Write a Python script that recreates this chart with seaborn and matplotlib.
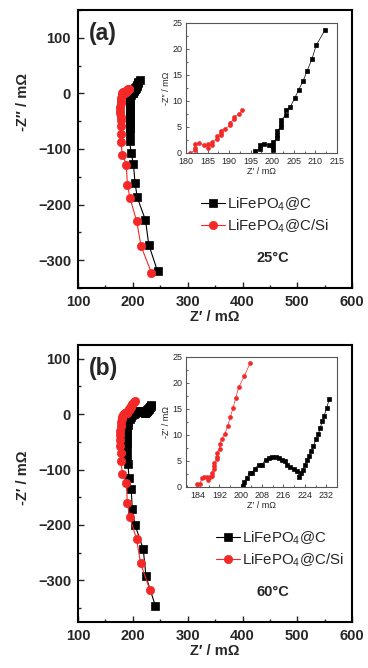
import matplotlib
matplotlib.use("Agg")
import matplotlib.pyplot as plt
from matplotlib.ticker import MultipleLocator
import seaborn as sns

# ---- (a) 25 C : LiFePO4@C (black) ----
a_c_x = [245, 229, 223, 208, 204, 201, 197, 194, 194, 194, 194, 194, 194, 194, 194, 194, 195, 195, 195, 196,
         196.1, 197.2, 197.2, 198.1, 199.2, 200.2, 200.2, 200.2, 201.1, 201.1, 201.1, 202.1, 202.1, 202.1,
         203.1, 203.1, 204.2, 205.2, 206.1, 207.2, 208.1, 209.2, 210.2, 212.2]
a_c_y = [-320, -272, -228, -187, -161, -127, -108, -85, -72, -62, -55, -48, -42, -36, -30, -24, -18, -13, -8, -3,
         0.3, 0.8, 1.5, 1.7, 1.6, 0.5, 1.3, 2.1, 2.8, 3.4, 4.3, 5.0, 5.6, 6.3,
         7.3, 8.2, 8.9, 10.5, 12.1, 13.9, 15.8, 18.0, 20.7, 23.6]
# ---- (a) 25 C : LiFePO4@C/Si (red) ----
a_si_x = [234, 215, 207, 195, 190, 188, 181, 178, 178, 178, 178, 178, 177, 177, 177, 178, 178, 179, 180,
          181.0, 182.0, 182.0, 182.0, 183.0, 184.1, 185.1, 185.1, 186.1, 186.1, 187.1, 187.1, 188.1, 188.1,
          188.1, 189.1, 190.2, 190.2, 191.2, 191.2, 192.2, 193.1]
a_si_y = [-323, -275, -230, -189, -164, -128, -110, -87, -73, -58, -48, -42, -36, -30, -24, -18, -13, -8, -3,
          0.0, 0.5, 1.0, 1.7, 1.9, 1.6, 1.0, 1.7, 1.6, 2.1, 2.6, 3.2, 3.4, 3.9,
          4.3, 4.7, 5.3, 5.8, 6.5, 7.0, 7.4, 8.2]

# ---- (b) 60 C : LiFePO4@C (black) ----
b_c_x = [241, 224, 219, 204, 199, 197, 193, 191, 190, 189, 189, 189, 189, 190, 191, 192, 194, 196, 198,
         200.8, 201.4, 202.3, 203.3, 204.2, 205.3, 206.7, 207.9, 209.3, 210.6, 211.8, 213.1, 214.4, 215.5,
         216.4, 217.4, 218.6, 219.9, 221.2, 222.0, 222.6, 223.4, 224.0, 224.9, 225.6, 226.4, 227.2, 228.2,
         229.1, 229.7, 230.6, 231.2, 232.2, 233.2]
b_c_y = [-346, -293, -244, -200, -172, -135, -115, -90, -75, -62, -52, -44, -36, -28, -20, -14, -9, -5, -2,
         0.1, 0.9, 1.6, 2.7, 2.7, 3.5, 4.2, 4.2, 5.2, 5.5, 5.7, 5.7, 5.5, 5.2,
         4.9, 4.2, 3.8, 3.4, 3.0, 1.9, 2.6, 3.3, 4.2, 5.1, 6.0, 6.8, 7.9, 9.1,
         10.1, 11.2, 12.7, 13.6, 15.2, 16.9]
# ---- (b) 60 C : LiFePO4@C/Si (red) ----
b_si_x = [231, 214, 207, 194, 190, 188, 181, 178, 178, 177, 177, 177, 177, 178, 179, 180, 181, 182,
          183.6, 184.6, 185.6, 186.4, 187.2, 187.9, 188.4, 189.2, 189.2, 190.1, 190.1, 190.1, 191.1, 191.1,
          191.1, 192.1, 192.1, 193.0, 194.1, 195.1, 196.1, 197.1, 198.1, 199.2, 201.3, 203.5]
b_si_y = [-317, -269, -226, -185, -160, -125, -108, -85, -71, -57, -47, -38, -30, -22, -15, -9, -5, -2,
          0.45, 0.6, 1.7, 1.9, 1.8, 1.3, 1.8, 2.1, 2.7, 3.5, 4.0, 4.5, 5.3, 5.8,
          6.5, 7.3, 8.2, 9.2, 10.2, 11.7, 13.4, 15.1, 17.0, 19.1, 21.2, 23.8]

labels = ["LiFePO$_4$@C", "LiFePO$_4$@C/Si"]
RED = "#f52828"

sns.set_style("ticks")
plt.rcParams["font.family"] = ["Liberation Sans", "DejaVu Sans"]
plt.rcParams["mathtext.default"] = "regular"

fig = plt.figure(figsize=(3.68, 6.68), dpi=100)


def series(ax, x, y, color, marker, ms, lw, label=None):
    sns.lineplot(x=x, y=y, ax=ax, sort=False, estimator=None, color=color, marker=marker,
                 markersize=ms, markeredgecolor=color, markeredgewidth=0.5, linewidth=lw,
                 label=label, legend=False)


def main_panel(rect, cx, cy, sx, sy, ylim, tag, temp, ylab, ylab_y, leg_xy):
    ax = fig.add_axes(rect)
    series(ax, cx, cy, "black", "s", 5.4, 0.8, labels[0])
    series(ax, sx, sy, RED, "o", 6.0, 0.8, labels[1])
    ax.set_xlim(100, 600)
    ax.set_ylim(*ylim)
    ax.xaxis.set_major_locator(MultipleLocator(100))
    ax.xaxis.set_minor_locator(MultipleLocator(50))
    ax.yaxis.set_major_locator(MultipleLocator(100))
    ax.yaxis.set_minor_locator(MultipleLocator(50))
    ax.tick_params(which="both", direction="in", top=False, right=False, width=1.0)
    ax.tick_params(which="major", length=4, labelsize=10.5, pad=5)
    ax.tick_params(which="minor", length=2.5)
    for t in ax.get_xticklabels() + ax.get_yticklabels():
        t.set_fontweight("bold")
    for s in ax.spines.values():
        s.set_linewidth(1.5)
        s.set_color("black")
    ax.set_xlabel("Z\u2032 / m\u03a9", fontsize=10.5, fontweight="bold", labelpad=1)
    ax.set_ylabel(ylab, fontsize=10.5, fontweight="bold")
    ax.yaxis.set_label_coords(-0.175, ylab_y)
    ax.text(0.092, 0.915, tag, transform=ax.transAxes, fontsize=16.5, fontweight="bold",
            ha="center", va="center")
    ax.text(0.71, 0.108, temp, transform=ax.transAxes, fontsize=10.5, fontweight="bold",
            ha="center", va="center")
    ax.legend(loc="upper left", bbox_to_anchor=leg_xy, frameon=False, fontsize=10.8,
              handlelength=1.6, handletextpad=0.15, labelspacing=0.3, borderaxespad=0)
    return ax


def inset(rect, cx, cy, sx, sy, xlim, xstep, ylab):
    ax = fig.add_axes(rect)
    series(ax, cx, cy, "black", "s", 2.6, 0.5)
    series(ax, sx, sy, RED, "o", 2.8, 0.5)
    ax.set_xlim(*xlim)
    ax.set_ylim(0, 25)
    ax.xaxis.set_major_locator(MultipleLocator(xstep))
    ax.xaxis.set_minor_locator(MultipleLocator(xstep / 2))
    ax.yaxis.set_major_locator(MultipleLocator(5))
    ax.yaxis.set_minor_locator(MultipleLocator(2.5))
    ax.tick_params(which="both", direction="in", top=False, right=False, width=0.6,
                   color="#444444")
    ax.tick_params(which="major", length=2.5, labelsize=6.5)
    ax.tick_params(axis="x", which="major", pad=3.2)
    ax.tick_params(axis="y", which="major", pad=2.8)
    ax.tick_params(which="minor", length=1.5)
    for s in ax.spines.values():
        s.set_linewidth(0.8)
        s.set_color("#555555")
    ax.set_xlabel("Z\u2032 / m\u03a9", fontsize=6.5, labelpad=0.3)
    ax.set_ylabel(ylab, fontsize=6.5, labelpad=1)
    return ax


main_panel([0.212, 0.569, 0.745, 0.416], a_c_x, a_c_y, a_si_x, a_si_y, (-350, 150),
           "(a)", "25\u00b0C", "-Z\u2033 / m\u03a9", 0.67, (0.425, 0.355))
inset([0.5054, 0.771, 0.410, 0.1946], a_c_x, a_c_y, a_si_x, a_si_y, (180, 215), 5,
      "-Z\u2033 / m\u03a9")

main_panel([0.212, 0.069, 0.745, 0.4147], b_c_x, b_c_y, b_si_x, b_si_y, (-375, 125),
           "(b)", "60\u00b0C", "-Z\u2032 / m\u03a9", 0.52, (0.48, 0.355))
inset([0.5054, 0.2714, 0.410, 0.1946], b_c_x, b_c_y, b_si_x, b_si_y, (179.5, 236), 8,
      "-Z\u2032 / m\u03a9")

fig.savefig("out.png", dpi=100)
